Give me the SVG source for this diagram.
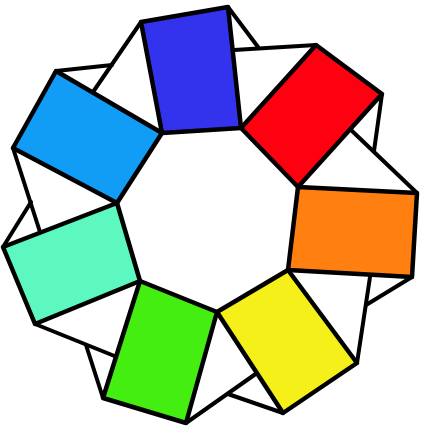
<svg xmlns="http://www.w3.org/2000/svg" width="424" height="432" viewBox="0 0 424 432">
<style>
.ln{stroke:#000;stroke-width:4;stroke-linecap:round;fill:none}
.rc{stroke:#000;stroke-width:4.5;stroke-linejoin:round}
</style>
<rect width="424" height="432" fill="#fff"/>
<g id="connectors">
<line class="ln" x1="228" y1="7" x2="258" y2="47"/>
<line class="ln" x1="234" y1="50" x2="316" y2="45"/>
<line class="ln" x1="382" y1="94" x2="374" y2="151"/>
<line class="ln" x1="351" y1="130" x2="417" y2="193"/>
<line class="ln" x1="412" y1="277" x2="366" y2="305"/>
<line class="ln" x1="370" y1="277" x2="357" y2="363"/>
<line class="ln" x1="283" y1="413" x2="228" y2="394"/>
<line class="ln" x1="257" y1="373" x2="186" y2="423"/>
<line class="ln" x1="103" y1="398" x2="86" y2="345"/>
<line class="ln" x1="35" y1="324" x2="117" y2="357"/>
<line class="ln" x1="3" y1="247" x2="31" y2="202"/>
<line class="ln" x1="13" y1="148" x2="40" y2="232"/>
<line class="ln" x1="56" y1="71" x2="112" y2="65"/>
<line class="ln" x1="141" y1="22" x2="93" y2="92"/>
</g>
<g id="blue"><polygon class="rc" fill="#3333EE" points="141,22 228,7 241,128 162,133"/></g>
<g id="red"><polygon class="rc" fill="#FF0010" points="241,128 316,45 382,94 298,187"/></g>
<g id="orange"><polygon class="rc" fill="#FF7F10" points="298,187 417,193 412,277 288,270"/></g>
<g id="yellow"><polygon class="rc" fill="#F5F01A" points="288,270 357,363 283,413 217,312"/></g>
<g id="green"><polygon class="rc" fill="#44EE11" points="217,312 186,423 103,398 140,281"/></g>
<g id="cyan"><polygon class="rc" fill="#5CF8C0" points="140,281 35,324 3,247 117,203"/></g>
<g id="lightblue"><polygon class="rc" fill="#119CF5" points="117,203 13,148 56,71 162,133"/></g>
</svg>
